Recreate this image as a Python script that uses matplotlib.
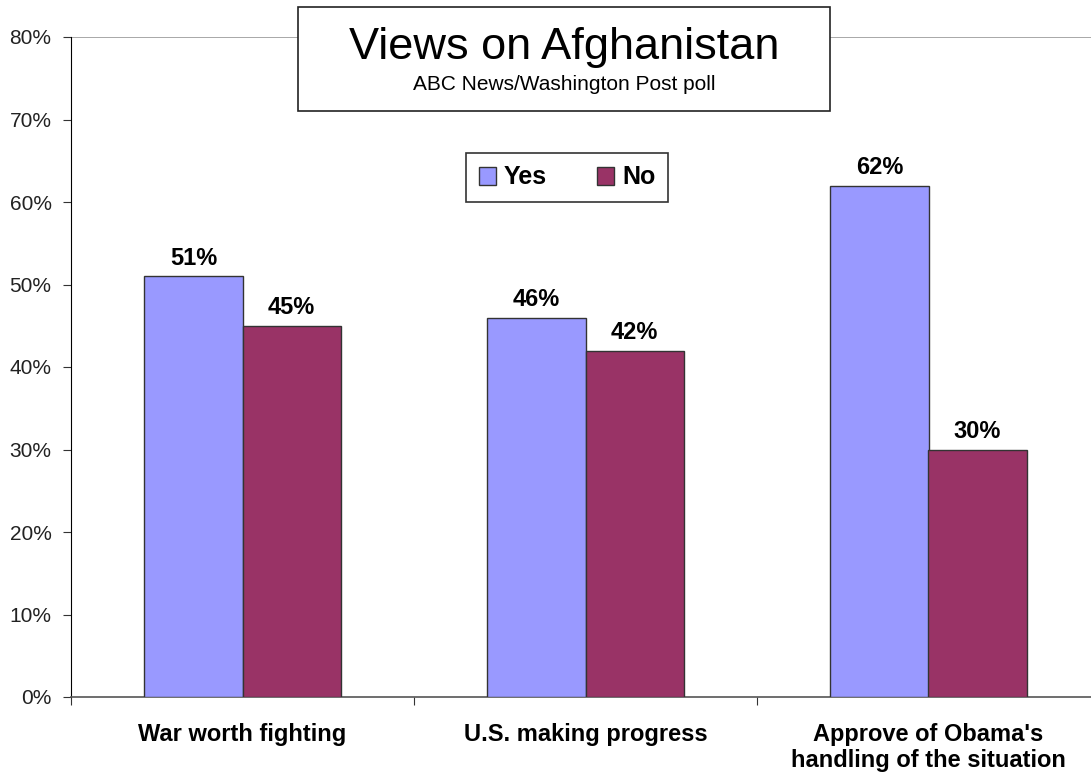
import matplotlib.pyplot as plt
from matplotlib.patches import Rectangle
import numpy as np

# Data
categories = ["War worth fighting", "U.S. making progress", "Approve of Obama's\nhandling of the situation"]
yes_vals = [51, 46, 62]
no_vals = [45, 42, 30]
y_ticks = [0, 10, 20, 30, 40, 50, 60, 70, 80]

plt.rcParams['font.family'] = ['Liberation Sans', 'DejaVu Sans']

fig = plt.figure(figsize=(10.91, 7.73), dpi=100)
ax = fig.add_axes([71 / 1091, 1 - 697 / 773, 1029 / 1091, 660 / 773])

x = np.arange(len(categories))
w = 0.286
b1 = ax.bar(x - w / 2, yes_vals, w, color='#9999FF', edgecolor='#333333', linewidth=1, label='Yes', zorder=3)
b2 = ax.bar(x + w / 2, no_vals, w, color='#993366', edgecolor='#333333', linewidth=1, label='No', zorder=3)

# value labels
for bars, vals in ((b1, yes_vals), (b2, no_vals)):
    for rect, v in zip(bars, vals):
        ax.text(rect.get_x() + rect.get_width() / 2, v + 0.8, f"{v}%",
                ha='center', va='bottom', fontsize=17, fontweight='bold')

ax.set_xlim(-0.5, 2.5)
ax.set_ylim(0, 80)
ax.set_yticks(y_ticks)
ax.set_yticklabels([f"{t}%" for t in y_ticks], fontsize=15, color='#222222')
ax.axhline(80, color='#999999', linewidth=1.2, zorder=1)

# category boundary ticks
ax.set_xticks([-0.5, 0.5, 1.5, 2.5])
ax.set_xticklabels([])
ax.set_xticks(x, minor=True)
ax.set_xticklabels(categories, minor=True, fontsize=17, fontweight='bold', linespacing=1.13)
ax.tick_params(axis='x', which='minor', length=0, pad=19)
ax.tick_params(axis='x', which='major', length=6, direction='out', color='#333333')
ax.tick_params(axis='y', length=6, direction='out', color='#333333', pad=8)

for s in ['top', 'right']:
    ax.spines[s].set_visible(False)
ax.spines['left'].set_color('black')
ax.spines['bottom'].set_color('#555555')
ax.spines['bottom'].set_linewidth(1.2)

# Title box
fig.patches.append(Rectangle((298 / 1091, 1 - 111 / 773), 532 / 1091, 104 / 773,
                             transform=fig.transFigure, facecolor='white',
                             edgecolor='#222222', linewidth=1.2, zorder=5))
fig.text(564 / 1091, 1 - 48 / 773, "Views on Afghanistan", ha='center', va='center',
         fontsize=32.5, zorder=6)
fig.text(564 / 1091, 1 - 85 / 773, "ABC News/Washington Post poll", ha='center', va='center',
         fontsize=15, zorder=6)

leg = ax.legend(loc='center', bbox_to_anchor=(567 / 1091, 1 - 177.5 / 773),
                bbox_transform=fig.transFigure, ncol=2, fancybox=False, framealpha=1,
                edgecolor='#333333', prop={'size': 18, 'weight': 'bold'},
                handlelength=0.7, handleheight=0.7, handletextpad=0.3,
                columnspacing=2.0, borderpad=0.5)
leg.get_frame().set_linewidth(1.2)

fig.savefig('out.png', dpi=100)
